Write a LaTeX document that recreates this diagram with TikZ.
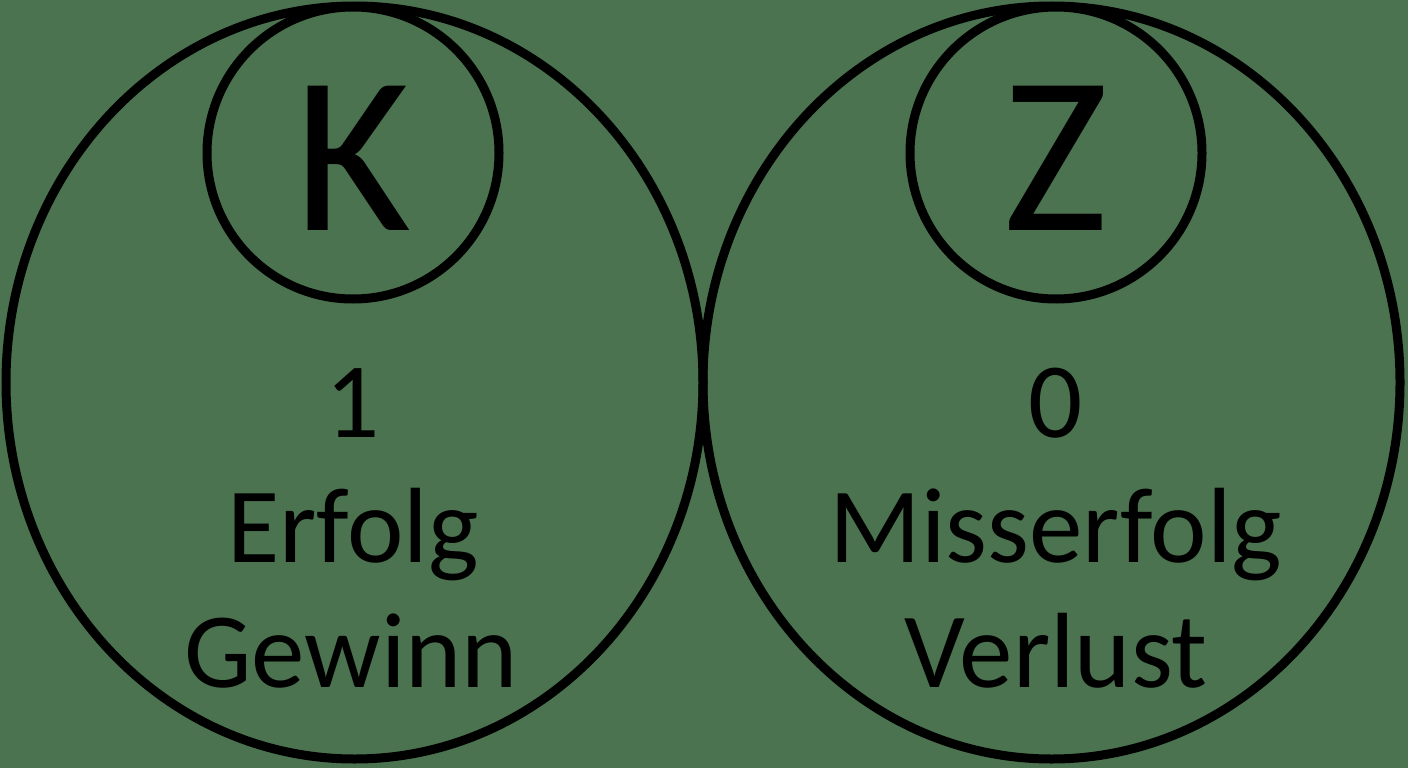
\documentclass[tikz,border=0pt]{standalone}
\usepackage{fontspec}
\setmainfont{Carlito}
\usetikzlibrary{shapes.geometric}
\definecolor{bg}{RGB}{75,115,80}
\tikzset{
  x=1pt, y=-1pt,
  ring/.style={draw=black, line width=9pt, inner sep=0pt, outer sep=0pt},
  big/.style={ring, ellipse, minimum width=697pt, minimum height=753pt},
  small/.style={ring, circle, minimum size=292pt},
  letter/.style={anchor=base, inner sep=0pt, font=\fontsize{225}{230}\selectfont},
  word/.style={anchor=base, inner sep=0pt, font=\fontsize{107}{120}\selectfont}
}
\begin{document}
\begin{tikzpicture}
\fill[bg] (0,0) rectangle (1408,768);
\useasboundingbox (0,0) rectangle (1408,768);
\node[big] (L) at (354.5,382.5) {};
\node[big] (R) at (1051.5,382.5) {};
\node[small] (Ls) at (353,153) {};
\node[small] (Rs) at (1056,153) {};
\node[letter] (K) at (353,230) {K};
\node[letter] (Z) at (1056,230) {Z};
\node[word] (one) at (353,437) {1};
\node[word] (erf) at (353,562) {Erfolg};
\node[word] (gew) at (351,687) {Gewinn};
\node[word] (zero) at (1056,437) {0};
\node[word] (miss) at (1056,562) {Misserfolg};
\node[word] (ver) at (1056,687) {Verlust};
\end{tikzpicture}
\end{document}
